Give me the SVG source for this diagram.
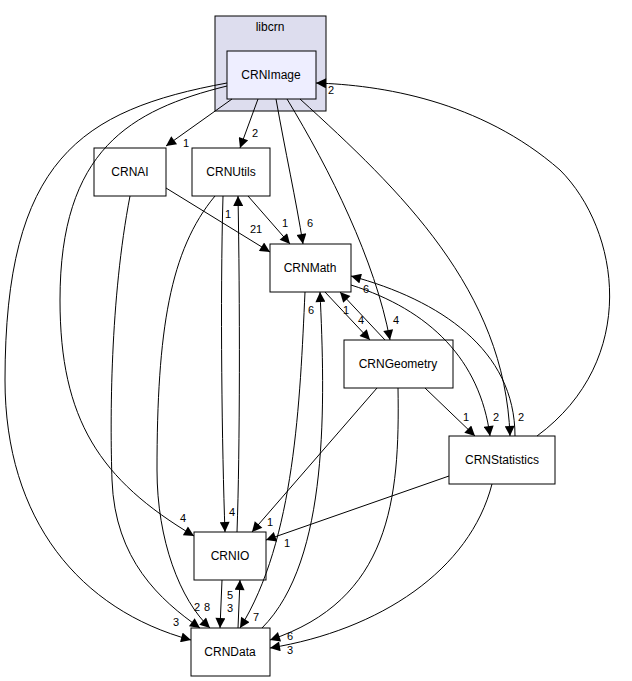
<svg xmlns="http://www.w3.org/2000/svg" width="632" height="681" viewBox="0 0 632 681">
<style>
.n rect{fill:#fff;stroke:#000;stroke-width:1}
text{font-family:"Liberation Sans",Arial,sans-serif;font-size:12px;text-anchor:middle;fill:#000}
.l{font-size:11px}
#e path{fill:none;stroke:#000;stroke-width:1;marker-end:url(#a)}
</style>
<defs><marker id="a" viewBox="0 0 10 10" refX="10" refY="5" markerWidth="12" markerHeight="10" orient="auto" markerUnits="userSpaceOnUse"><path d="M0,0L10,5L0,10z"/></marker></defs>
<g id="libcrn"><rect x="215" y="16" width="111" height="95" fill="#ddddee" stroke="#000"/><text x="270" y="31">libcrn</text></g>
<g id="CRNImage" class="n"><rect x="227" y="51" width="89" height="48" style="fill:#eeeeff"/><text x="271" y="79">CRNImage</text></g>
<g id="CRNAI" class="n"><rect x="94" y="148" width="72" height="48"/><text x="130" y="176">CRNAI</text></g>
<g id="CRNUtils" class="n"><rect x="192" y="148" width="78" height="48"/><text x="231" y="176">CRNUtils</text></g>
<g id="CRNMath" class="n"><rect x="270" y="244" width="81" height="48"/><text x="310" y="272">CRNMath</text></g>
<g id="CRNGeometry" class="n"><rect x="344" y="340" width="109" height="48"/><text x="398" y="368">CRNGeometry</text></g>
<g id="CRNStatistics" class="n"><rect x="449" y="436" width="106" height="48"/><text x="502" y="464">CRNStatistics</text></g>
<g id="CRNIO" class="n"><rect x="194" y="532" width="72" height="48"/><text x="230" y="560">CRNIO</text></g>
<g id="CRNData" class="n"><rect x="191" y="628" width="79" height="48"/><text x="230" y="656">CRNData</text></g>
<g id="e">
<path d="M232,99L166,146"/>
<path d="M258,99L240,148"/>
<path d="M276,99C285,150 296,200 303,244"/>
<path d="M287,99C330,170 375,260 390,340"/>
<path d="M300,99C400,190 505,290 510,436"/>
<path d="M227,86C130,110 60,150 60,300C60,420 100,480 194,536"/>
<path d="M227,83C80,110 5,160 5,380C5,520 80,610 191,640"/>
<path d="M537,436C640,360 620,230 560,170C480,100 380,85 316,83"/>
<path d="M166,188L270,252"/>
<path d="M130,196C110,300 110,420 112,480C115,560 160,600 200,628"/>
<path d="M248,196L290,244"/>
<path d="M223,196C220,300 222,450 225,532"/>
<path d="M237,532C240,450 240,300 238,196"/>
<path d="M215,196C170,250 157,330 157,470C157,540 180,600 210,628"/>
<path d="M325,292L370,340"/>
<path d="M385,340L340,292"/>
<path d="M351,285C430,310 480,360 490,436"/>
<path d="M515,436C515,350 440,300 351,276"/>
<path d="M305,292C300,400 295,540 240,628"/>
<path d="M262,628C330,560 325,400 320,292"/>
<path d="M377,388L252,532"/>
<path d="M398,388C400,500 390,600 270,640"/>
<path d="M449,476L266,540"/>
<path d="M492,484C470,570 380,630 270,648"/>
<path d="M425,388L475,436"/>
<path d="M222,580L220,628"/>
<path d="M238,628L240,580"/>
</g>
<g id="labels">
<text class="l" x="186" y="147">1</text>
<text class="l" x="255" y="137">2</text>
<text class="l" x="310" y="227">6</text>
<text class="l" x="396" y="324">4</text>
<text class="l" x="521" y="421">2</text>
<text class="l" x="183" y="522">4</text>
<text class="l" x="176" y="626">3</text>
<text class="l" x="331" y="94">2</text>
<text class="l" x="256" y="233">21</text>
<text class="l" x="197" y="611">2</text>
<text class="l" x="285" y="227">1</text>
<text class="l" x="228" y="218">1</text>
<text class="l" x="232" y="516">4</text>
<text class="l" x="207" y="611">8</text>
<text class="l" x="361" y="324">4</text>
<text class="l" x="346" y="314">1</text>
<text class="l" x="496" y="421">2</text>
<text class="l" x="366" y="293">6</text>
<text class="l" x="256" y="621">7</text>
<text class="l" x="311" y="314">6</text>
<text class="l" x="270" y="526">1</text>
<text class="l" x="290" y="640">6</text>
<text class="l" x="287" y="547">1</text>
<text class="l" x="290" y="654">3</text>
<text class="l" x="466" y="421">1</text>
<text class="l" x="230" y="612">3</text>
<text class="l" x="230" y="599">5</text>
</g>
</svg>
